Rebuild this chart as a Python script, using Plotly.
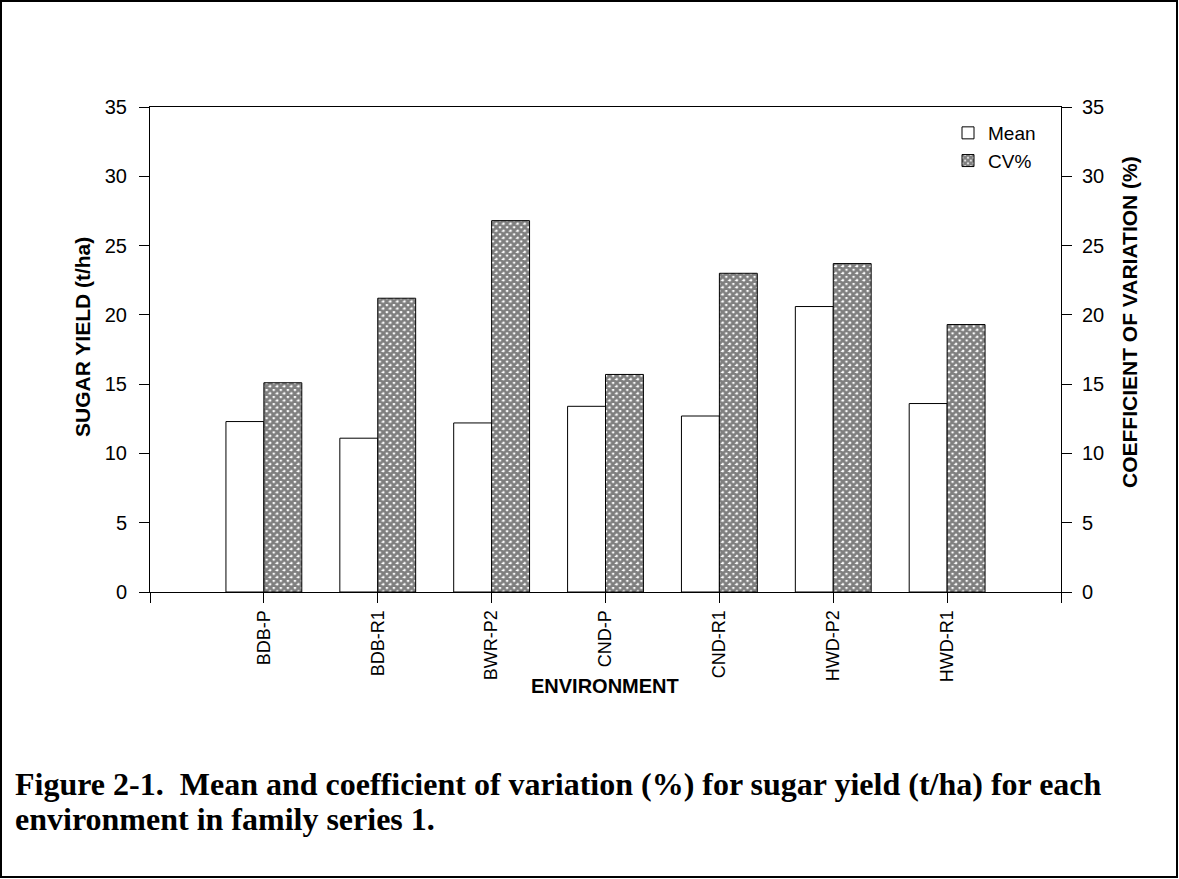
import plotly.graph_objects as go
import numpy as np

environments = ["BDB-P", "BDB-R1", "BWR-P2", "CND-P", "CND-R1", "HWD-P2", "HWD-R1"]
mean_yield = [12.3, 11.1, 12.2, 13.4, 12.7, 20.6, 13.6]
cv_percent = [15.1, 21.2, 26.8, 15.7, 23.0, 23.7, 19.3]
y_ticks = [0, 5, 10, 15, 20, 25, 30, 35]

W, H = 1179, 879
L, R, T, B = 150, 1061, 107, 592


def xp(px):
    return (px - L) / (R - L)


def yp(py):
    return (B - py) / (B - T)


pos = np.arange(1, len(environments) + 1)
bar_w = 0.333
FONT = "Liberation Sans, Arial, sans-serif"
SERIF = "Liberation Serif, Times New Roman, serif"

fig = go.Figure()
fig.add_trace(go.Bar(
    x=pos, y=mean_yield, width=bar_w, offset=-bar_w, name="Mean",
    marker=dict(color="white", line=dict(color="black", width=1)),
))
fig.add_trace(go.Bar(
    x=pos, y=cv_percent, width=bar_w, offset=0, name="CV%", yaxis="y2",
    marker=dict(color="white", line=dict(color="black", width=1),
                pattern=dict(shape="x", size=5, solidity=0.8,
                             fgcolor="black", bgcolor="white")),
))

axis_common = dict(
    showgrid=False, zeroline=False, showline=True, linecolor="black",
    linewidth=1, ticks="outside", ticklen=10, tickcolor="black",
)

fig.update_layout(
    width=W, height=H, autosize=False,
    margin=dict(l=L, r=W - R, t=T, b=H - B),
    paper_bgcolor="white", plot_bgcolor="white",
    barmode="overlay",
    font=dict(family=FONT, size=18, color="black"),
    xaxis=dict(range=[0, 8], tickmode="array", tickvals=list(range(0, 9)),
               ticktext=[""] + environments + [""], tickangle=-90,
               mirror=True, tickfont=dict(family=FONT, size=18, color="black"),
               **axis_common),
    yaxis=dict(range=[0, 35], tickmode="array", tickvals=y_ticks,
               ticklabelstandoff=8,
               tickfont=dict(family=FONT, size=20, color="black"), **axis_common),
    yaxis2=dict(range=[0, 35], tickmode="array", tickvals=y_ticks,
                overlaying="y", side="right", ticklabelstandoff=6,
                tickfont=dict(family=FONT, size=20, color="black"), **axis_common),
    legend=dict(x=xp(948), y=yp(114), xanchor="left", yanchor="top",
                bgcolor="rgba(0,0,0,0)", font=dict(family=FONT, size=19),
                tracegroupgap=0, itemwidth=30),
    showlegend=True,
)

annotations = [
    dict(text="<b>SUGAR YIELD (t/ha)</b>", x=xp(82), y=yp(337), textangle=-90,
         font=dict(family=FONT, size=21)),
    dict(text="<b>COEFFICIENT OF VARIATION (%)</b>", x=xp(1129), y=yp(322),
         textangle=-90, font=dict(family=FONT, size=21)),
    dict(text="<b>ENVIRONMENT</b>", x=xp(605), y=yp(686),
         font=dict(family=FONT, size=20)),
    dict(text="<b>Figure 2-1.  Mean and coefficient of variation (%) for sugar yield (t/ha) for each</b>",
         x=xp(13), y=yp(784), xanchor="left", font=dict(family=SERIF, size=32)),
    dict(text="<b>environment in family series 1.</b>",
         x=xp(13), y=yp(819), xanchor="left", font=dict(family=SERIF, size=32)),
]
for a in annotations:
    a.setdefault("xanchor", "center")
    a.update(xref="paper", yref="paper", yanchor="middle", showarrow=False)
fig.update_layout(annotations=annotations)

fig.add_shape(type="rect", xref="paper", yref="paper",
              x0=xp(1), x1=xp(1177), y0=yp(877), y1=yp(1),
              line=dict(color="black", width=2), fillcolor="rgba(0,0,0,0)")

fig.write_html("out.html")
